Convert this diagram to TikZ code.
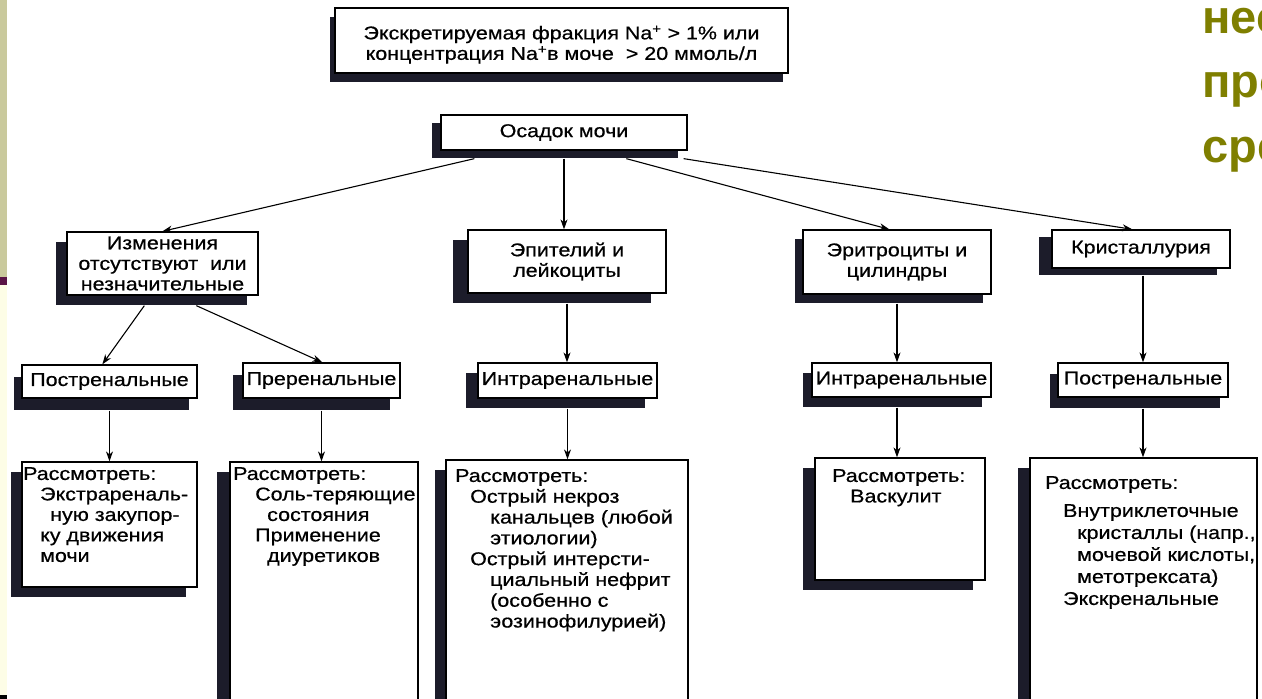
\documentclass[tikz,border=0pt]{standalone}
\usepackage{fontspec}
\setmainfont{Liberation Sans}[FakeStretch=1.16, FakeBold=0.6]
\newfontfamily\headfont{Liberation Sans}
\usetikzlibrary{arrows.meta,shadows}

\definecolor{shadowc}{HTML}{1C1C2A}
\definecolor{olivec}{HTML}{7F7F00}
\definecolor{stripk}{HTML}{C9C99C}
\definecolor{stripm}{HTML}{5A1446}
\definecolor{stripc}{HTML}{FDFDE6}

\tikzset{
  sbox/.style 2 args={draw, fill=white, line width=1.3pt, inner sep=0pt,
    align=center, font=\fontsize{18.5}{20.5}\selectfont,
    general shadow={fill=shadowc, shadow xshift=#1, shadow yshift=#2}},
  arr/.style={line width=1.1pt, -{Stealth[length=10pt,width=7pt]}},
  lbl/.style={inner sep=0pt, anchor=north west, align=left,
    font=\fontsize{18.5}{20.5}\selectfont},
  head/.style={inner sep=0pt, anchor=base west, text=olivec,
    font=\headfont\bfseries\fontsize{47}{60}\selectfont},
}

\begin{document}
\begin{tikzpicture}[x=1pt,y=-1pt]
\useasboundingbox (0,0) rectangle (1262,699);
\clip (0,0) rectangle (1262,699);
\fill[white] (0,0) rectangle (1262,699);

% slide edge on the left
\fill[stripk] (0,0) rectangle (7,277);
\fill[stripm] (0,277) rectangle (7,285);
\fill[stripc] (0,285) rectangle (7,695);
\fill[black] (0,695) rectangle (7,699);

% slide heading, running off the right edge
\node[head] (h1) at (1202,33) {нес};
\node[head] (h2) at (1202,97) {про};
\node[head] (h3) at (1202,162) {сре};

% top levels
\node[sbox={-5pt}{-9pt}, minimum width=453pt, minimum height=65pt] (title) at (561.5,40.5)
  {\rule{0pt}{22pt}Экскретируемая фракция Na\textsuperscript{+} > 1\% или\\концентрация Na\textsuperscript{+}в моче\ \ > 20 ммоль/л};
\node[sbox={-9pt}{-8pt}, minimum width=246pt, minimum height=35pt] (osadok) at (564,132.5) {Осадок мочи};

\node[sbox={-11pt}{-10pt}, minimum width=191pt, minimum height=63pt] (izm) at (162.5,263.5)
  {Изменения\\отсутствуют\ \ или\\незначительные};
\node[sbox={-15pt}{-10pt}, minimum width=198pt, minimum height=63pt] (epi) at (567,261.5) {Эпителий и\\лейкоциты};
\node[sbox={-8pt}{-9pt}, minimum width=188pt, minimum height=64pt] (eri) at (897,262) {Эритроциты и\\цилиндры};
\node[sbox={-13pt}{-7pt}, minimum width=178pt, minimum height=38pt] (kri) at (1141,249) {Кристаллурия};

% localisation
\node[sbox={-8pt}{-12pt}, minimum width=175pt, minimum height=33pt] (post1) at (109.5,381.5) {Постренальные};
\node[sbox={-10pt}{-12pt}, minimum width=157pt, minimum height=35pt] (pre) at (321.5,380.5) {Преренальные};
\node[sbox={-12pt}{-10pt}, minimum width=179pt, minimum height=35pt] (intra1) at (567.5,380.5) {Интраренальные};
\node[sbox={-9pt}{-10pt}, minimum width=179pt, minimum height=34pt] (intra2) at (901.5,380) {Интраренальные};
\node[sbox={-8pt}{-11pt}, minimum width=170pt, minimum height=34pt] (post2) at (1143,380) {Постренальные};

% "consider" boxes
\node[sbox={-11pt}{-10pt}, minimum width=175pt, minimum height=125pt] (b1) at (109.5,524.5) {};
\node[sbox={-13pt}{-10pt}, minimum width=188pt, minimum height=258pt] (b2) at (324,591) {};
\node[sbox={-11pt}{-10pt}, minimum width=242pt, minimum height=260pt] (b3) at (567,590) {};
\node[sbox={-12pt}{-10pt}, minimum width=170pt, minimum height=122pt] (b4) at (900,519) {};
\node[sbox={-12pt}{-10pt}, minimum width=227pt, minimum height=262pt] (b5) at (1143.5,589) {};

\node[lbl] (t1) at (23,467) {Рассмотреть:\\\hspace*{17pt}Экстрареналь-\\\hspace*{27pt}ную закупор-\\\hspace*{17pt}ку движения\\\hspace*{17pt}мочи};
\node[lbl] (t2) at (233,467) {Рассмотреть:\\\hspace*{22pt}Соль-теряющие\\\hspace*{34pt}состояния\\\hspace*{22pt}Применение\\\hspace*{34pt}диуретиков};
\node[lbl, font=\fontsize{18.5}{20.8}\selectfont] (t3) at (455,469) {Рассмотреть:\\\hspace*{15pt}Острый некроз\\\hspace*{35pt}канальцев (любой\\\hspace*{35pt}этиологии)\\\hspace*{15pt}Острый интерсти-\\\hspace*{35pt}циальный нефрит\\\hspace*{35pt}(особенно с\\\hspace*{35pt}эозинофилурией)};
\node[lbl] (t4) at (832,469) {Рассмотреть:\\\hspace*{18pt}Васкулит};
\node[lbl, font=\fontsize{18.5}{22}\selectfont] (t5) at (1045,476) {Рассмотреть:\\[6pt]\hspace*{18pt}Внутриклеточные\\\hspace*{32pt}кристаллы (напр.,\\\hspace*{32pt}мочевой кислоты,\\\hspace*{32pt}метотрексата)\\\hspace*{18pt}Экскренальные};

% connectors
\draw[arr] ([xshift=34pt,yshift=-8pt]osadok.south west) -- ([xshift=96pt]izm.north west);
\draw[arr] ([yshift=-8pt]osadok.south) -- (osadok.south |- epi.north);
\draw[arr] ([xshift=186pt,yshift=-8pt]osadok.south west) -- ([xshift=87pt]eri.north west);
\draw[arr] ([xshift=-4pt,yshift=-8pt]osadok.south east) -- ([xshift=81pt]kri.north west);

\draw[arr] ([xshift=78pt,yshift=-10pt]izm.south west) -- ([xshift=81pt]post1.north west);
\draw[arr] ([xshift=130pt,yshift=-10pt]izm.south west) -- ([xshift=80pt]pre.north west);
\draw[arr] ([yshift=-12pt]post1.south) -- (post1.south |- b1.north);
\draw[arr] ([yshift=-12pt]pre.south) -- (pre.south |- b2.north);

\draw[arr] ([yshift=-10pt]epi.south) -- (epi.south |- intra1.north);
\draw[arr] ([yshift=-10pt]intra1.south) -- (intra1.south |- b3.north);

\draw[arr] ([yshift=-9pt]eri.south) -- (eri.south |- intra2.north);
\draw[arr] ([yshift=-10pt]eri.south |- intra2.south) -- (eri.south |- b4.north);

\draw[arr] ([yshift=-7pt]post2.north |- kri.south) -- (post2.north);
\draw[arr] ([yshift=-11pt]post2.south) -- (post2.south |- b5.north);
\end{tikzpicture}
\end{document}
